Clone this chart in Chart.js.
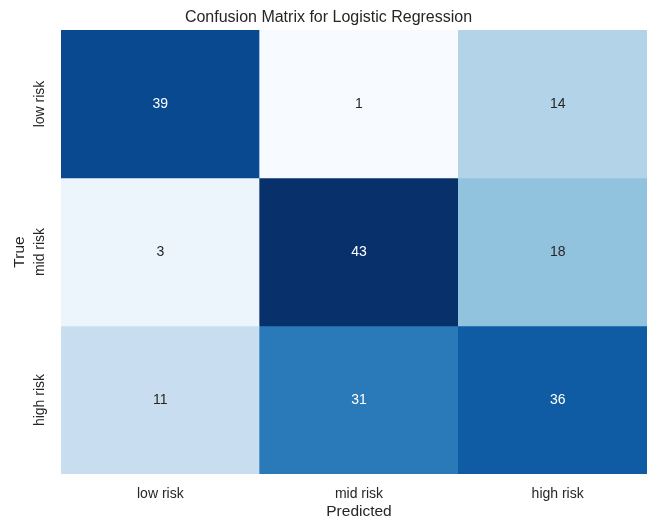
<!DOCTYPE html>
<html>
<head>
<meta charset="utf-8">
<script src="https://cdn.jsdelivr.net/npm/chart.js@4"></script>
<style>
html,body{margin:0;padding:0;background:#fff;overflow:hidden;}
#wrap{width:660px;height:523px;}
</style>
</head>
<body>
<div id="wrap"><canvas id="c" width="660" height="523"></canvas></div>
<script>
const predictedLabels = ['low risk', 'mid risk', 'high risk'];
const trueLabels = ['low risk', 'mid risk', 'high risk'];
const rowLow = [39, 1, 14];
const rowMid = [3, 43, 18];
const rowHigh = [11, 31, 36];
const matrix = [rowLow, rowMid, rowHigh];

const titleText = 'Confusion Matrix for Logistic Regression';
const xTitle = 'Predicted';
const yTitle = 'True';

// matplotlib "Blues" colormap anchors
const blues = ['#f7fbff','#deebf7','#c6dbef','#9ecae1','#6baed6','#4292c6','#2171b5','#08519c','#08306b'];
function hex2rgb(h){return [parseInt(h.substr(1,2),16),parseInt(h.substr(3,2),16),parseInt(h.substr(5,2),16)];}
const bluesRGB = blues.map(hex2rgb);
const allVals = matrix.flat();
const vmin = Math.min(...allVals), vmax = Math.max(...allVals);
function cmap(v){
  let t = (v - vmin) / (vmax - vmin);
  t = Math.max(0, Math.min(1, t));
  const p = t * (bluesRGB.length - 1);
  const i = Math.min(Math.floor(p), bluesRGB.length - 2);
  const f = p - i;
  const a = bluesRGB[i], b = bluesRGB[i+1];
  return [0,1,2].map(k => Math.round(a[k] + (b[k]-a[k])*f));
}
function rgbStr(c){return 'rgb(' + c.join(',') + ')';}
function textColorFor(c){
  const lin = c.map(x => { x/=255; return x <= 0.03928 ? x/12.92 : Math.pow((x+0.055)/1.055, 2.4); });
  const lum = 0.2126*lin[0] + 0.7152*lin[1] + 0.0722*lin[2];
  return lum > 0.408 ? '#262626' : '#ffffff';
}

const datasets = matrix.map((row, r) => ({
  label: trueLabels[r],
  data: row.map(() => [r - 0.5, r + 0.5]),
  backgroundColor: row.map(v => rgbStr(cmap(v))),
  borderWidth: 0,
  barPercentage: 1,
  categoryPercentage: 1,
  grouped: false
}));

const FONT = 'Liberation Sans, Arial, Helvetica, sans-serif';
const TEXT = '#262626';

const cellText = {
  id: 'cellText',
  afterDatasetsDraw(chart) {
    const ctx = chart.ctx;
    const xs = chart.scales.x, ys = chart.scales.y;
    ctx.save();
    ctx.font = '14px ' + FONT;
    ctx.textAlign = 'center';
    ctx.textBaseline = 'middle';
    matrix.forEach((row, r) => {
      row.forEach((v, c) => {
        ctx.fillStyle = textColorFor(cmap(v));
        ctx.fillText(String(v), xs.getPixelForValue(c), ys.getPixelForValue(r));
      });
    });
    // y tick labels, rotated
    ctx.fillStyle = TEXT;
    trueLabels.forEach((lab, r) => {
      ctx.save();
      ctx.translate(40, ys.getPixelForValue(r));
      ctx.rotate(-Math.PI/2);
      ctx.fillText(lab, 0, 0);
      ctx.restore();
    });
    ctx.restore();
  }
};

new Chart(document.getElementById('c'), {
  type: 'bar',
  data: { labels: predictedLabels, datasets },
  plugins: [cellText],
  options: {
    responsive: false,
    animation: false,
    devicePixelRatio: 1,
    layout: { padding: { left: 0, right: 3, top: 0, bottom: 0 } },
    plugins: {
      legend: { display: false },
      tooltip: { enabled: false },
      title: {
        display: true,
        text: titleText,
        color: TEXT,
        font: { family: FONT, size: 16, weight: 'normal', lineHeight: 1.2 },
        padding: { top: 8, bottom: 2.8 }
      }
    },
    scales: {
      x: {
        type: 'category',
        offset: true,
        grid: { display: false, drawTicks: false },
        border: { display: false },
        ticks: { color: TEXT, font: { family: FONT, size: 14, lineHeight: 1.2 }, padding: 11.6, maxRotation: 0, minRotation: 0 },
        title: { display: true, text: xTitle, color: TEXT, font: { family: FONT, size: 15.5, lineHeight: 1.2 }, padding: { top: 2, bottom: 2 } },
        afterFit(s) { s.height = 49; }
      },
      y: {
        type: 'linear',
        min: -0.5,
        max: 2.5,
        reverse: true,
        grid: { display: false, drawTicks: false },
        border: { display: false },
        ticks: { display: false },
        afterBuildTicks(s) { s.ticks = [{value:0},{value:1},{value:2}]; },
        title: { display: true, text: yTitle, color: TEXT, font: { family: FONT, size: 15.5, lineHeight: 1.2 }, padding: { top: 10.7, bottom: 10.7 } },
        afterFit(s) { s.width = 61; }
      }
    }
  }
});
</script>
</body>
</html>
